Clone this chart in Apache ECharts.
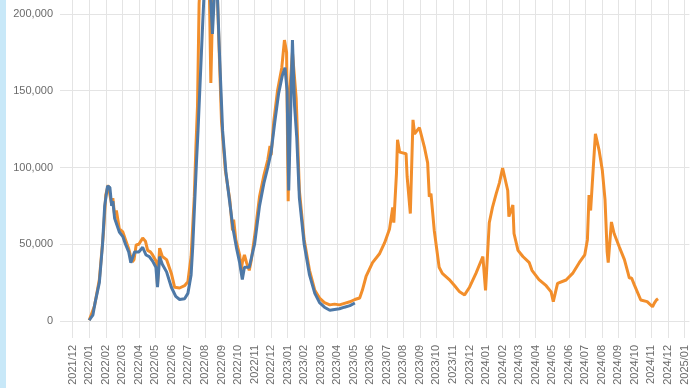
<!DOCTYPE html>
<html>
<head>
<meta charset="utf-8">
<script src="https://cdn.jsdelivr.net/npm/echarts@6/dist/echarts.min.js"></script>
<style>
html,body{margin:0;padding:0;background:#fff;}
#c{width:690px;height:388px;}
</style>
</head>
<body>
<div id="c"></div>
<script>
// Month tick labels (x axis)
const monthLabels = ['2021/12','2022/01','2022/02','2022/03','2022/04','2022/05','2022/06','2022/07','2022/08','2022/09','2022/10','2022/11','2022/12','2023/01','2023/02','2023/03','2023/04','2023/05','2023/06','2023/07','2023/08','2023/09','2023/10','2023/11','2023/12','2024/01','2024/02','2024/03','2024/04','2024/05','2024/06','2024/07','2024/08','2024/09','2024/10','2024/11','2024/12','2025/01'];
// Y tick values
const yTicks = [0, 50000, 100000, 150000, 200000];

// Orange series
const orangeDates = ['2022-01-01','2022-01-11','2022-01-20','2022-01-28','2022-02-01','2022-02-05','2022-02-07','2022-02-11','2022-02-13','2022-02-16','2022-02-19','2022-02-24','2022-03-02','2022-03-07','2022-03-13','2022-03-16','2022-03-20','2022-03-23','2022-03-27','2022-04-01','2022-04-08','2022-04-13','2022-04-17','2022-04-22','2022-04-26','2022-05-03','2022-05-05','2022-05-09','2022-05-14','2022-05-22','2022-05-31','2022-06-06','2022-06-15','2022-06-24','2022-06-30','2022-07-06','2022-07-12','2022-07-15','2022-07-18','2022-07-21','2022-07-27','2022-08-04','2022-08-09','2022-08-12','2022-08-15','2022-08-20','2022-08-24','2022-09-01','2022-09-08','2022-09-16','2022-09-21','2022-09-23','2022-09-27','2022-10-04','2022-10-07','2022-10-09','2022-10-13','2022-10-17','2022-10-22','2022-10-26','2022-11-01','2022-11-10','2022-11-18','2022-11-25','2022-11-29','2022-12-01','2022-12-06','2022-12-13','2022-12-21','2022-12-26','2022-12-30','2023-01-02','2023-01-05','2023-01-10','2023-01-17','2023-01-23','2023-02-01','2023-02-10','2023-02-19','2023-02-27','2023-03-08','2023-03-18','2023-03-27','2023-04-05','2023-04-14','2023-04-24','2023-05-03','2023-05-12','2023-05-17','2023-05-24','2023-06-05','2023-06-18','2023-06-27','2023-07-06','2023-07-12','2023-07-14','2023-07-19','2023-07-21','2023-07-25','2023-08-06','2023-08-08','2023-08-14','2023-08-19','2023-08-22','2023-08-31','2023-09-09','2023-09-15','2023-09-18','2023-09-21','2023-09-27','2023-10-06','2023-10-12','2023-10-25','2023-11-04','2023-11-13','2023-11-22','2023-12-01','2023-12-13','2023-12-26','2023-12-31','2024-01-07','2024-01-13','2024-01-20','2024-01-26','2024-02-01','2024-02-10','2024-02-12','2024-02-19','2024-02-21','2024-02-28','2024-03-08','2024-03-20','2024-03-25','2024-04-07','2024-04-20','2024-04-29','2024-05-03','2024-05-11','2024-05-27','2024-06-08','2024-06-20','2024-06-30','2024-07-05','2024-07-08','2024-07-11','2024-07-16','2024-07-20','2024-07-27','2024-08-02','2024-08-07','2024-08-11','2024-08-13','2024-08-19','2024-08-24','2024-09-03','2024-09-12','2024-09-18','2024-09-21','2024-09-25','2024-09-30','2024-10-12','2024-10-24','2024-11-03','2024-11-06','2024-11-10','2024-11-13'];
const orangeValues = [500,10000,27000,59000,82000,88500,88000,76000,80000,69000,72000,60000,58000,53000,47000,43000,38600,40000,49500,50000,54000,52000,46000,45000,43000,38600,23500,47500,42000,40000,31000,22000,21500,23000,25600,42000,81000,113000,140000,207000,240000,250000,220000,155000,200000,240000,215000,130000,98000,79000,59000,66000,53000,43000,33000,38000,43000,38000,33000,40000,55000,81000,95000,105000,114000,108000,130000,150000,165000,183000,175000,78000,150000,175000,145000,85000,53000,33000,20000,15000,12000,10500,11000,10500,11500,12500,14000,15000,20000,29000,38000,44000,51000,60000,74000,64000,96000,118000,110000,109000,94000,70000,131000,122000,126000,113500,103000,81000,83000,59000,35000,31000,27000,23000,19000,17000,22000,31000,42000,20000,64000,74000,83000,90000,99600,85000,68000,75600,57000,46000,42000,38000,33000,27000,23000,19000,12600,24500,26700,31000,38000,43000,53000,82000,72000,100000,122000,111000,98000,79000,45000,38000,64500,57000,48000,40000,32000,28000,28000,23500,13700,12600,9300,11500,13700,14500];

// Blue series
const blueDates = ['2022-01-01','2022-01-08','2022-01-12','2022-01-20','2022-01-26','2022-01-30','2022-02-04','2022-02-08','2022-02-11','2022-02-13','2022-02-16','2022-02-19','2022-02-24','2022-03-02','2022-03-07','2022-03-13','2022-03-17','2022-03-20','2022-03-24','2022-04-01','2022-04-08','2022-04-14','2022-04-20','2022-04-26','2022-05-02','2022-05-05','2022-05-09','2022-05-14','2022-05-22','2022-05-31','2022-06-08','2022-06-15','2022-06-24','2022-06-30','2022-07-06','2022-07-09','2022-07-16','2022-07-19','2022-07-28','2022-08-03','2022-08-09','2022-08-15','2022-08-22','2022-08-28','2022-09-03','2022-09-09','2022-09-16','2022-09-22','2022-09-28','2022-10-04','2022-10-09','2022-10-13','2022-10-22','2022-11-01','2022-11-10','2022-11-18','2022-11-25','2022-12-01','2022-12-08','2022-12-15','2022-12-22','2022-12-27','2022-12-31','2023-01-03','2023-01-10','2023-01-14','2023-01-18','2023-01-23','2023-02-01','2023-02-10','2023-02-19','2023-02-27','2023-03-08','2023-03-18','2023-03-27','2023-04-05','2023-04-14','2023-04-24','2023-05-03'];
const blueValues = [500,4000,12000,25000,50000,75000,88000,87000,75000,78000,67000,68000,58000,55000,50000,45000,38000,37000,45000,45000,48000,43000,42000,39000,35000,22000,42000,37000,32000,22000,16000,14000,14500,18000,30000,48000,103000,124000,196000,240000,230000,187000,235000,176000,124000,97000,77000,60000,48000,38000,27000,35000,35000,50000,75000,90000,100000,110000,130000,148000,160000,165000,150000,85000,183000,140000,120000,80000,50000,30000,18000,12000,9000,7000,7500,8000,9000,10000,11700];

function monthPos(s){
  const [y,mo,d] = s.split('-').map(Number);
  const dim = new Date(y, mo, 0).getDate();
  return (y-2021)*12 + (mo-12) + (d-1)/dim;
}
function pairs(dates, vals){ return dates.map((d,i)=>[monthPos(d), vals[i]]); }

const chart = echarts.init(document.getElementById('c'), null, {renderer:'canvas'});
const tickIdx = monthLabels.map((_,i)=>i);
const gridColor = '#e4e4e4';
const labelColor = '#6b6b6b';
chart.setOption({
  animation:false,
  backgroundColor:'#ffffff',
  graphic:[{type:'rect', left:0, top:0, shape:{width:6, height:388}, style:{fill:'#c8e8f8'}, z:100}],
  grid:{left:60, right:0, top:0, bottom:50, containLabel:false},
  xAxis:{
    type:'value', min:-0.767, max:37.3,
    axisLine:{show:false},
    axisTick:{show:false, customValues:tickIdx},
    axisLabel:{customValues:tickIdx, rotate:90, margin:7, color:labelColor, fontFamily:'Liberation Sans, Arial, sans-serif', fontSize:11,
      formatter:function(v){ return monthLabels[Math.round(v)] || ''; }},
    splitLine:{show:true, lineStyle:{color:gridColor, width:1}}
  },
  yAxis:{
    type:'value', min:-11075, max:209120,
    axisLine:{show:false},
    axisTick:{show:false, customValues:yTicks},
    axisLabel:{customValues:yTicks, margin:7, color:labelColor, fontFamily:'Liberation Sans, Arial, sans-serif', fontSize:11,
      formatter:function(v){ return Math.round(v).toLocaleString('en-US'); }},
    splitLine:{show:true, lineStyle:{color:gridColor, width:1}}
  },
  series:[
    {type:'line', data:pairs(orangeDates, orangeValues), showSymbol:false, clip:true, lineStyle:{color:'#f28e2b', width:3}, itemStyle:{color:'#f28e2b'}},
    {type:'line', data:pairs(blueDates, blueValues), showSymbol:false, clip:true, lineStyle:{color:'#4e79a7', width:3}, itemStyle:{color:'#4e79a7'}}
  ]
});
</script>
</body>
</html>
